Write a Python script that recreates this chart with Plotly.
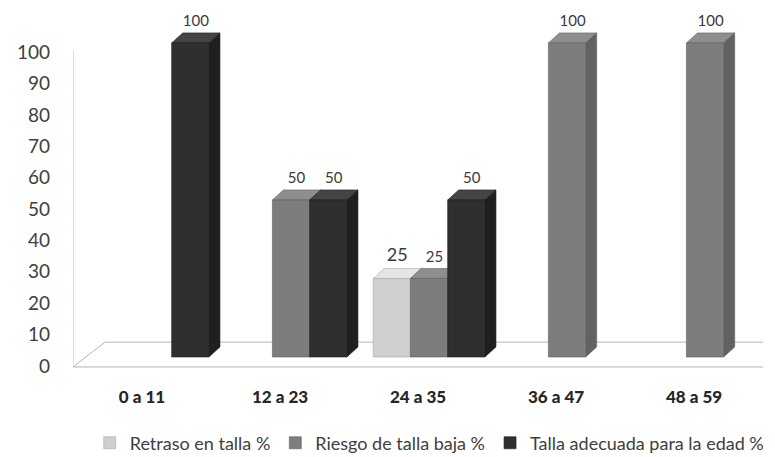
import plotly.graph_objects as go

# Datos
grupos = ["0 a 11", "12 a 23", "24 a 35", "36 a 47", "48 a 59"]
retraso = [0, 0, 25, 0, 0]
riesgo = [0, 50, 25, 100, 100]
adecuada = [100, 50, 50, 0, 0]
nombres = ["Retraso en talla %", "Riesgo de talla baja %", "Talla adecuada para la edad %"]

series = [retraso, riesgo, adecuada]
colores = ["#cfcfcf", "#7d7d7d", "#2f2f2f"]
colores_top = ["#e4e4e4", "#8e8e8e", "#444444"]
colores_lado = ["#a9a9a9", "#626262", "#1f1f1f"]
tam_texto = [18, 15, 15]

ancho = 0.27
dx, dy = 0.08, 3.2      # profundidad del efecto 3D (unidades de datos)
shift_x = 0.08          # barras desplazadas respecto a las etiquetas
y0_tick, y1_tick = -1.91, 113.4
y0_bar, y1_bar = -4.78, 110.5

fig = go.Figure()
shapes = []

# piso
shapes.append(dict(
    type="path", xref="x", yref="y", layer="below",
    path="M -0.5,-0.3 L -0.268,7.6 L 4.75,7.6 L 4.5,-0.3 Z",
    line=dict(color="#b5b5b5", width=1), fillcolor="rgba(255,255,255,0)"
))
shapes.append(dict(
    type="line", xref="x", yref="y", layer="below",
    x0=-0.5, x1=-0.5, y0=0.5, y1=100.5,
    line=dict(color="#b5b5b5", width=1)
))

for k, vals in enumerate(series):
    off = -1.5 * ancho + k * ancho
    fig.add_trace(go.Bar(
        x=list(range(len(grupos))), y=[v if v else None for v in vals], name=nombres[k],
        xaxis="x2", yaxis="y2",
        width=ancho, offset=off,
        marker=dict(color=colores[k], line=dict(color=colores_lado[k], width=0.6)),
        hoverinfo="skip"
    ))
    tx, ty, tt = [], [], []
    for i, v in enumerate(vals):
        if v == 0:
            continue
        xl = i + off
        xr = xl + ancho
        # cara superior
        shapes.append(dict(
            type="path", xref="x2", yref="y2", layer="below",
            path=f"M {xl},{v} L {xl+dx},{v+dy} L {xr+dx},{v+dy} L {xr},{v} Z",
            fillcolor=colores_top[k], line=dict(color=colores_lado[k], width=0.6)
        ))
        # cara lateral
        shapes.append(dict(
            type="path", xref="x2", yref="y2", layer="below",
            path=f"M {xr},0 L {xr+dx},{dy} L {xr+dx},{v+dy} L {xr},{v} Z",
            fillcolor=colores_lado[k], line=dict(color=colores_lado[k], width=0.6)
        ))
        tx.append(xl + ancho / 2 + dx / 2)
        ty.append(v + dy + 1)
        tt.append(str(v))
    fig.add_trace(go.Scatter(
        x=tx, y=ty, text=tt, mode="text", textposition="top center",
        xaxis="x2", yaxis="y2", showlegend=False, cliponaxis=False,
        textfont=dict(size=tam_texto[k], color="#3a3a3a", family="Lato"),
        hoverinfo="skip"
    ))

# el body de la página añade 8px de margen: figura de 767x449
fig.update_layout(
    width=767, height=449,
    margin=dict(l=65, r=12, t=2, b=85),
    paper_bgcolor="white", plot_bgcolor="rgba(0,0,0,0)",
    font=dict(family="Lato", color="#404040"),
    shapes=shapes,
    xaxis=dict(
        range=[-0.5, 4.5], tickvals=list(range(len(grupos))), ticktext=grupos,
        showgrid=False, zeroline=False, showline=False, automargin=False,
        tickfont=dict(size=17, color="#262626", family="Lato Black, Lato"),
        ticklabelstandoff=13
    ),
    yaxis=dict(
        range=[y0_tick, y1_tick], tickvals=list(range(0, 101, 10)),
        showgrid=False, zeroline=False, showline=False, automargin=False,
        tickfont=dict(size=19, color="#404040"),
        ticklabelstandoff=22
    ),
    xaxis2=dict(overlaying="x", range=[-0.5 - shift_x, 4.5 - shift_x], visible=False),
    yaxis2=dict(overlaying="y", range=[y0_bar, y1_bar], visible=False),
    legend=dict(
        orientation="h", x=0.517, xanchor="center", y=0.031, yanchor="middle",
        yref="container",
        font=dict(size=18, color="#404040"), itemwidth=30,
        traceorder="normal"
    ),
    showlegend=True
)

fig.write_html("out.html")
